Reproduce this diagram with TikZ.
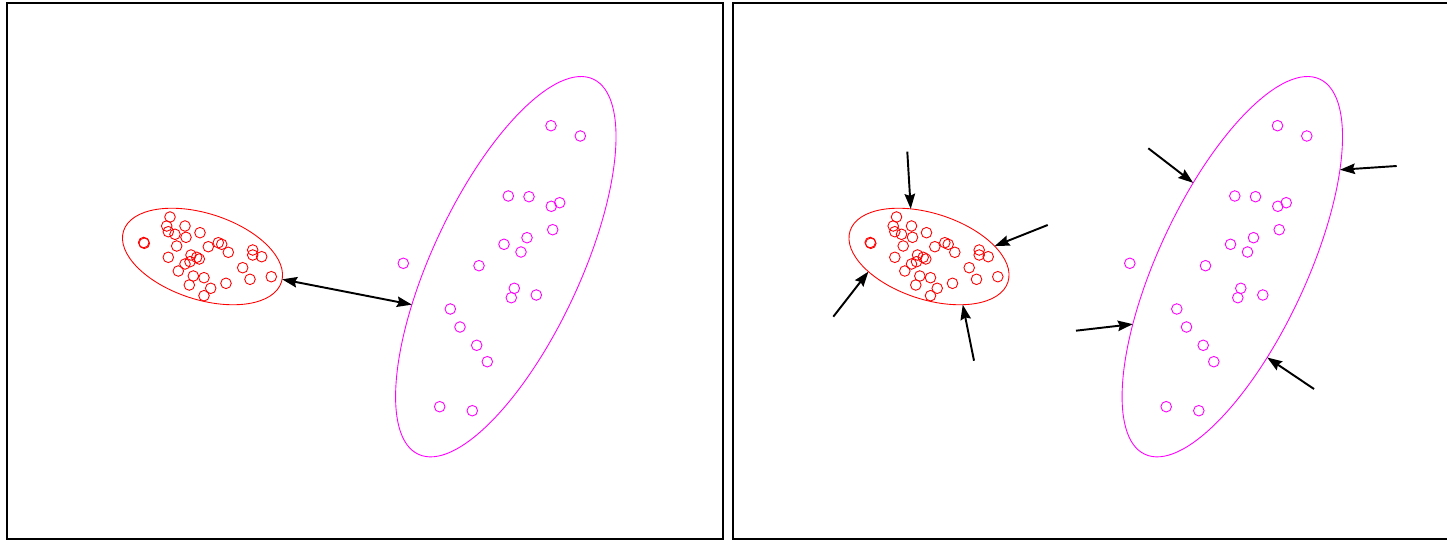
\documentclass[tikz,border=0pt]{standalone}
\usetikzlibrary{arrows.meta,shapes.geometric}

\definecolor{clusterred}{RGB}{255,0,0}
\definecolor{clustermag}{RGB}{255,0,255}

\newcommand\redpoints{170/217, 166.7/226, 185/226, 168.3/231.7, 175/234.3, 186/237.3, 200/232.7, 143.7/242.5, 144.3/243.3, 176.7/246, 208.3/246.7, 218.3/242.7, 221.7/244.3, 228.3/252.3, 252.7/250, 252.7/255, 261.7/256.7, 168.3/257.3, 191/255, 196.7/257.3, 199.3/259, 185/264, 190/261.7, 178.3/271, 242.7/267.7, 193.3/276, 204/277.7, 226/283.3, 250/279.3, 271.3/276.7, 189.3/285, 210.7/288.3, 204/295.7}
\newcommand\magpoints{551/125.7, 580.3/136, 508.3/196, 529/196.7, 551.3/206.3, 559.7/202.7, 552.7/229.7, 527/237.7, 504/244.3, 521/252, 403.3/263.3, 479/265.7, 514.3/288.3, 511.3/297.7, 536.3/295, 450.3/309, 460/327, 476.7/345.3, 487.3/361.7, 439.7/406.7, 472.3/410.7}

\begin{document}
\begin{tikzpicture}[
  x=0.02cm, y=-0.02cm,
  >={Stealth[length=3mm,width=2.1mm,inset=0.4mm]},
  frame/.style={draw=black, line width=1.1pt},
  cluster/.style={ellipse, draw, line width=0.5pt, inner sep=0pt, outer sep=0pt},
  redset/.style={cluster, draw=clusterred, minimum width=3.32cm, minimum height=1.72cm, rotate=-18},
  magset/.style={cluster, draw=clustermag, minimum width=8.28cm, minimum height=2.96cm, rotate=65},
  sample/.style={line width=0.5pt},
  arrow/.style={->, line width=1.1pt}
]
\useasboundingbox (0,0) rectangle (1447,540);
\draw[frame] (6.7,2.7) rectangle (723.3,539);
\draw[frame] (1447,2.7) -- (732.7,2.7) -- (732.7,539) -- (1447,539);

\foreach \dx/\p in {0/L, 726.5/R} {
  \node[redset] (red\p) at (202.5+\dx,256.5) {};
  \node[magset] (mag\p) at (505.8+\dx,266.7) {};
  \foreach \x/\y in \redpoints
    \draw[sample, clusterred] (\x+\dx,\y) circle[radius=5.3];
  \foreach \x/\y in \magpoints
    \draw[sample, clustermag] (\x+\dx,\y) circle[radius=5.3];
}

\draw[arrow, <->] (redL.2) -- (magL.137);

\coordinate (r1) at (907.3,151.7);
\coordinate (r2) at (1047.7,225);
\coordinate (r3) at (833.3,316.7);
\coordinate (r4) at (974,360.7);
\coordinate (m1) at (1148.3,148.3);
\coordinate (m2) at (1396.7,166);
\coordinate (m3) at (1076,330.7);
\coordinate (m4) at (1314,389);

\draw[arrow] (r1) -- (redR.129.5);
\draw[arrow] (r2) -- (redR.27);
\draw[arrow] (r3) -- (redR.212.6);
\draw[arrow] (r4) -- (redR.-37.1);
\draw[arrow] (m1) -- (magR.50.6);
\draw[arrow] (m2) -- (magR.-23.4);
\draw[arrow] (m3) -- (magR.145.8);
\draw[arrow] (m4) -- (magR.-134.7);
\end{tikzpicture}
\end{document}
